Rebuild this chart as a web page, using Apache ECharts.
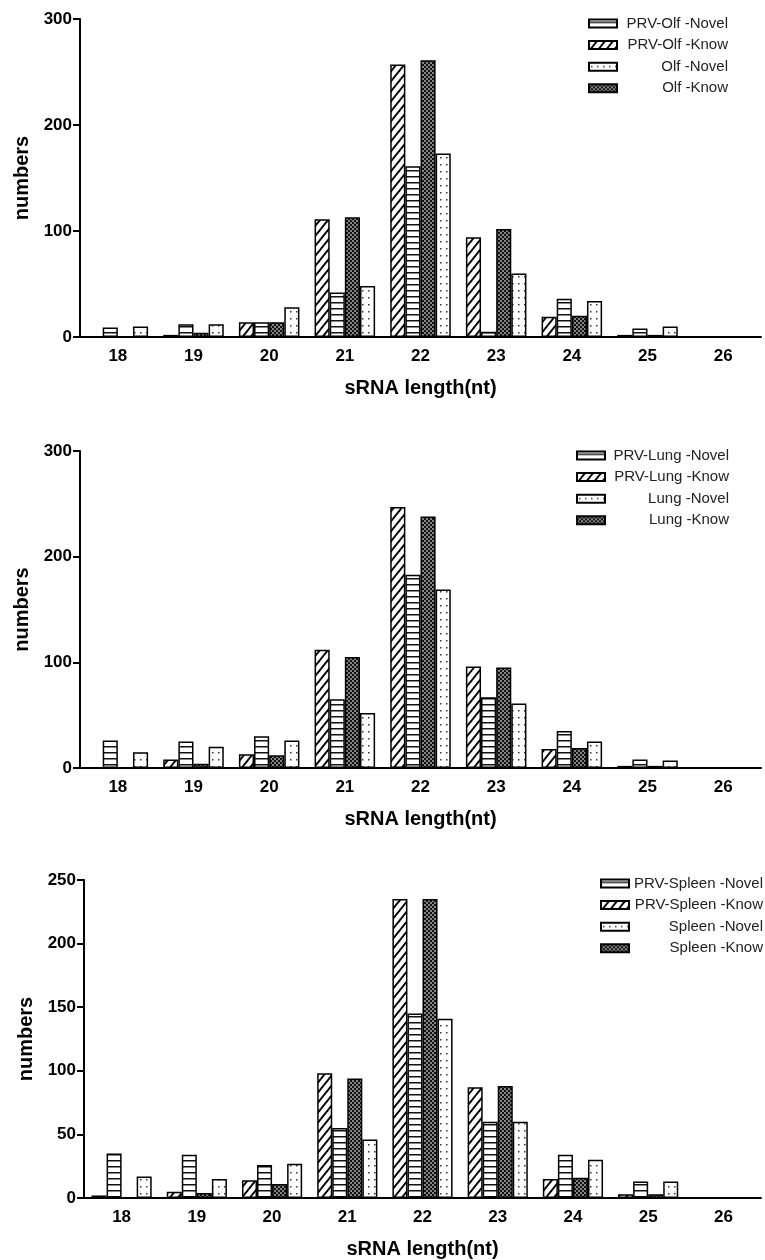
<!DOCTYPE html>
<html>
<head>
<meta charset="utf-8">
<script src="https://cdn.jsdelivr.net/npm/echarts@6/dist/echarts.min.js"></script>
<style>
  html, body { margin: 0; padding: 0; background: #fff; }
  #chart { width: 765px; height: 1260px; }
</style>
</head>
<body>
<div id="chart"></div>
<script>
// sRNA lengths on the x axis
const lengths = ['18', '19', '20', '21', '22', '23', '24', '25', '26'];

// Olf panel
const olfPrvKnow = [0, 2, 14, 111, 257, 94, 19, 2, 0];
const olfPrvNovel = [9, 12, 14, 42, 161, 5, 36, 8, 0];
const olfKnow = [0, 4, 14, 113, 261, 102, 20, 2, 0];
const olfNovel = [10, 12, 28, 48, 173, 60, 34, 10, 0];

// Lung panel
const lungPrvKnow = [0, 8, 13, 112, 247, 96, 18, 2, 0];
const lungPrvNovel = [26, 25, 30, 65, 183, 67, 35, 8, 0];
const lungKnow = [0, 4, 12, 105, 238, 95, 19, 2, 0];
const lungNovel = [15, 20, 26, 52, 169, 61, 25, 7, 0];

// Spleen panel
const spleenPrvKnow = [2, 5, 14, 98, 235, 87, 15, 3, 0];
const spleenPrvNovel = [35, 34, 26, 55, 145, 60, 34, 13, 0];
const spleenKnow = [0, 4, 11, 94, 235, 88, 16, 3, 0];
const spleenNovel = [17, 15, 27, 46, 141, 60, 30, 13, 0];

const yMax = [300, 300, 250];
const yStep = [100, 100, 50];

// hatch fills, drawn on small canvases
function makePattern(w, h, draw) {
  const c = document.createElement('canvas');
  c.width = w; c.height = h;
  const ctx = c.getContext('2d');
  ctx.fillStyle = '#fff';
  ctx.fillRect(0, 0, w, h);
  draw(ctx, w, h);
  return { image: c, repeat: 'repeat' };
}

const diagonal = makePattern(8, 10, (ctx, w, h) => {
  ctx.strokeStyle = '#000';
  ctx.lineWidth = 1.9;
  for (let k = -1; k <= 1; k++) {
    ctx.beginPath();
    ctx.moveTo(k * w - w, 2 * h);
    ctx.lineTo(k * w + 2 * w, -h);
    ctx.stroke();
  }
});
const horizontal = makePattern(4, 6, (ctx) => {
  ctx.fillStyle = '#111';
  ctx.fillRect(0, 2, 4, 1.5);
});
const dots = makePattern(6, 7, (ctx) => {
  ctx.fillStyle = '#333';
  ctx.fillRect(2, 3, 1.5, 1.5);
});
const checker = makePattern(4, 4, (ctx) => {
  ctx.fillStyle = '#111';
  ctx.fillRect(0, 0, 4, 4);
  ctx.fillStyle = '#fff';
  ctx.fillRect(0.3, 0.3, 1.4, 1.4);
  ctx.fillRect(2.3, 2.3, 1.4, 1.4);
});

const font = 'Liberation Sans';

function bar(name, data, idx, fill) {
  return {
    name, type: 'bar', xAxisIndex: idx, yAxisIndex: idx, data,
    barGap: '0%', barCategoryGap: '20%',
    itemStyle: { color: fill, borderColor: '#000', borderWidth: 1.5 },
    emphasis: { disabled: true }
  };
}

// legend text is right-aligned inside a fixed-width box, like the original
function legend(left, top, width, names) {
  return {
    orient: 'vertical', left, top, padding: 0, icon: 'rect',
    itemWidth: 28, itemHeight: 8, itemGap: 6.6,
    selectedMode: false, data: names,
    formatter: n => '{a|' + n + '}',
    textStyle: {
      width,
      rich: { a: { align: 'right', fontFamily: font, fontSize: 15, color: '#222', lineHeight: 16 } }
    }
  };
}

const grids = [
  { left: 80, top: 19, width: 681, height: 318 },
  { left: 80, top: 451, width: 681, height: 317 },
  { left: 84, top: 880, width: 677, height: 318 }
];

const xAxes = grids.map((g, i) => ({
  type: 'category', gridIndex: i, data: lengths,
  axisLine: { lineStyle: { color: '#000', width: 2 } },
  axisTick: { alignWithLabel: true, length: 6, lineStyle: { color: '#000', width: 2 } },
  axisLabel: { color: '#000', fontWeight: 'bold', fontSize: 17, fontFamily: font, margin: 11 },
  name: 'sRNA length(nt)', nameLocation: 'middle', nameGap: 41,
  nameTextStyle: { color: '#000', fontWeight: 'bold', fontSize: 20, fontFamily: font }
}));

const yAxes = grids.map((g, i) => ({
  type: 'value', gridIndex: i, min: 0, max: yMax[i], interval: yStep[i],
  axisLine: { show: true, lineStyle: { color: '#000', width: 2 } },
  axisTick: { show: true, length: 7, lineStyle: { color: '#000', width: 2 } },
  axisLabel: { color: '#000', fontWeight: 'bold', fontSize: 17, fontFamily: font, margin: 8 },
  splitLine: { show: false },
  name: 'numbers', nameLocation: 'middle', nameGap: 40,
  nameTextStyle: { color: '#000', fontWeight: 'bold', fontSize: 20, fontFamily: font }
}));

const series = [
  bar('PRV-Olf -Know', olfPrvKnow, 0, diagonal),
  bar('PRV-Olf -Novel', olfPrvNovel, 0, horizontal),
  bar('Olf -Know', olfKnow, 0, checker),
  bar('Olf -Novel', olfNovel, 0, dots),
  bar('PRV-Lung -Know', lungPrvKnow, 1, diagonal),
  bar('PRV-Lung -Novel', lungPrvNovel, 1, horizontal),
  bar('Lung -Know', lungKnow, 1, checker),
  bar('Lung -Novel', lungNovel, 1, dots),
  bar('PRV-Spleen -Know', spleenPrvKnow, 2, diagonal),
  bar('PRV-Spleen -Novel', spleenPrvNovel, 2, horizontal),
  bar('Spleen -Know', spleenKnow, 2, checker),
  bar('Spleen -Novel', spleenNovel, 2, dots)
];

const chart = echarts.init(document.getElementById('chart'));
chart.setOption({
  animation: false,
  backgroundColor: '#fff',
  grid: grids,
  xAxis: xAxes,
  yAxis: yAxes,
  legend: [
    legend(588, 16, 106, ['PRV-Olf -Novel', 'PRV-Olf -Know', 'Olf -Novel', 'Olf -Know']),
    legend(576, 448, 119, ['PRV-Lung -Novel', 'PRV-Lung -Know', 'Lung -Novel', 'Lung -Know']),
    legend(600, 876, 129, ['PRV-Spleen -Novel', 'PRV-Spleen -Know', 'Spleen -Novel', 'Spleen -Know'])
  ],
  series
});
</script>
</body>
</html>
